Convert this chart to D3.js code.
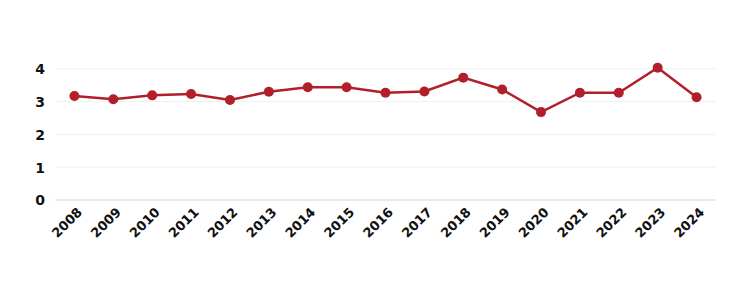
<!DOCTYPE html>
<html>
<head>
<meta charset="utf-8">
<script src="https://cdn.jsdelivr.net/npm/d3@7"></script>
<style>
  body { margin: 0; background: #fff; }
  svg text { font-family: "DejaVu Sans", sans-serif; font-weight: bold; fill: #111; }
</style>
</head>
<body>
<svg id="chart"></svg>
<script>
// data
const years = ["2008", "2009", "2010", "2011", "2012", "2013", "2014", "2015", "2016",
  "2017", "2018", "2019", "2020", "2021", "2022", "2023", "2024"];
const values = [3.17, 3.07, 3.19, 3.23, 3.05, 3.30, 3.44, 3.44, 3.27,
  3.31, 3.73, 3.37, 2.68, 3.27, 3.27, 4.03, 3.13];
const yTicks = [0, 1, 2, 3, 4];

const width = 744, height = 283;
const margin = { top: 52, right: 28, bottom: 83, left: 55 };

const svg = d3.select("#chart")
  .attr("width", width)
  .attr("height", height);

// scales
const x = d3.scalePoint()
  .domain(years)
  .range([margin.left, width - margin.right])
  .padding(0.5);

const y = d3.scaleLinear()
  .domain([0, 5])
  .range([height - margin.bottom, margin.top - 16]);

// grid lines
svg.append("g")
  .selectAll("line")
  .data(yTicks)
  .join("line")
  .attr("x1", margin.left)
  .attr("x2", width - margin.right)
  .attr("y1", d => y(d))
  .attr("y2", d => y(d))
  .attr("stroke", d => d === 0 ? "#e2e2e2" : "#f0f0f0")
  .attr("stroke-width", d => d === 0 ? 1.5 : 1);

// y axis labels
const yAxis = svg.append("g")
  .attr("transform", `translate(${margin.left - 10},0)`)
  .call(d3.axisLeft(y).tickValues(yTicks).tickFormat(d3.format("d")).tickSize(0).tickPadding(0));
yAxis.select(".domain").remove();
yAxis.selectAll("text")
  .style("font-size", "14px")
  .attr("dy", "0.35em");

// x axis labels
const xAxis = svg.append("g")
  .attr("transform", `translate(0,${y(0)})`)
  .call(d3.axisBottom(x).tickSize(0).tickPadding(0));
xAxis.select(".domain").remove();
xAxis.selectAll("text")
  .style("font-size", "13px")
  .attr("text-anchor", "end")
  .attr("dy", 0)
  .attr("transform", "translate(8,13) rotate(-45)");

// line
const line = d3.line()
  .x((d, i) => x(years[i]))
  .y(d => y(d));

svg.append("path")
  .datum(values)
  .attr("fill", "none")
  .attr("stroke", "#b11f2b")
  .attr("stroke-width", 2.5)
  .attr("d", line);

// points
svg.append("g")
  .selectAll("circle")
  .data(values)
  .join("circle")
  .attr("cx", (d, i) => x(years[i]))
  .attr("cy", d => y(d))
  .attr("r", 5)
  .attr("fill", "#b11f2b");
</script>
</body>
</html>
